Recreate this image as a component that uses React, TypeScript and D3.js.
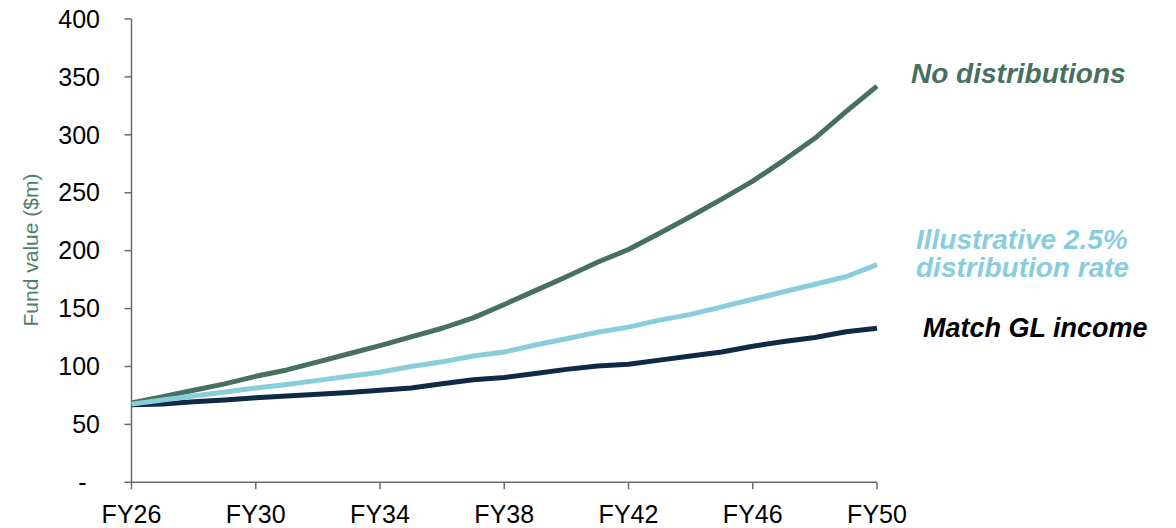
import React from "react";
import * as d3 from "d3";

const years = [26,27,28,29,30,31,32,33,34,35,36,37,38,39,40,41,42,43,44,45,46,47,48,49,50];
const noDistributions = [68.5,74,79.5,85,91.5,97,104,111,118,125.5,133,142,153.5,165.5,177.5,190,201,215,229.5,244.5,260,278,297,320,342];
const illustrative = [67.5,71,74.5,78,81.5,84.5,88,91.5,95,100,104,109,112.5,118.5,124,129.5,134,140,145,151.5,158,164.5,171,177.5,188];
const matchGL = [67,67.5,69.5,71,73,74.5,76,77.5,79.5,81.5,85,88.5,90.5,94,97.5,100.5,102,105.5,109,112.5,117.5,121.5,125,130,133];
const yTicks = [0,50,100,150,200,250,300,350,400];
const yTickLabels = ["-","50","100","150","200","250","300","350","400"];
const xTicks = [26,30,34,38,42,46,50];
const xTickLabels = ["FY26","FY30","FY34","FY38","FY42","FY46","FY50"];

const FONT = "'Liberation Sans', Arial, sans-serif";

export default function App() {
  const x = d3.scaleLinear().domain([26, 50]).range([131.5, 877]);
  const y = d3.scaleLinear().domain([0, 400]).range([482.3, 19]);
  const line = (vals: number[]) =>
    d3.line<number>().x((_, i) => x(years[i])).y((v) => y(v))(vals) || "";

  const axisColor = "#6b6b6b";
  const series = [
    { vals: matchGL, color: "#0f2947" },
    { vals: noDistributions, color: "#476f62" },
    { vals: illustrative, color: "#89cddd" },
  ];

  return (
    <svg width={1176} height={528} style={{ position: "absolute", left: 0, top: 0, display: "block", background: "#fff" }}>
      {/* y axis */}
      <line x1={x(26)} x2={x(26)} y1={y(400)} y2={y(0)} stroke={axisColor} strokeWidth={1.5} />
      {yTicks.map((t, i) => (
        <g key={"y" + t}>
          <line x1={x(26) - 7} x2={x(26)} y1={y(t)} y2={y(t)} stroke={axisColor} strokeWidth={1.5} />
          <text x={t === 0 ? 86.5 : 100} y={y(t)} dy="0.35em" textAnchor="end" fontFamily={FONT} fontSize={25} fill="#000">
            {yTickLabels[i]}
          </text>
        </g>
      ))}
      {/* x axis */}
      <line x1={x(26)} x2={x(50)} y1={y(0)} y2={y(0)} stroke={axisColor} strokeWidth={1.5} />
      {xTicks.map((t, i) => (
        <g key={"x" + t}>
          <line x1={x(t)} x2={x(t)} y1={y(0)} y2={y(0) + 7} stroke={axisColor} strokeWidth={1.5} />
          <text x={x(t)} y={523} textAnchor="middle" fontFamily={FONT} fontSize={25} fill="#000">
            {xTickLabels[i]}
          </text>
        </g>
      ))}
      {/* y title */}
      <text transform="translate(37.5,250) rotate(-90)" textAnchor="middle" fontFamily={FONT} fontSize={21} fill="#4e7d6e">
        Fund value ($m)
      </text>
      {/* lines */}
      {series.map((s, i) => (
        <path key={i} d={line(s.vals)} fill="none" stroke={s.color} strokeWidth={5} strokeLinejoin="round" strokeLinecap="butt" />
      ))}
      {/* labels */}
      <text x={911} y={83} fontFamily={FONT} fontSize={28} fontWeight="bold" fontStyle="italic" fill="#476f62">No distributions</text>
      <text x={916} y={249} fontFamily={FONT} fontSize={28} fontWeight="bold" fontStyle="italic" fill="#89cddd">
        <tspan x={916}>Illustrative 2.5%</tspan>
        <tspan x={916} dy={28}>distribution rate</tspan>
      </text>
      <text x={923} y={337} fontFamily={FONT} fontSize={27} fontWeight="bold" fontStyle="italic" fill="#000">Match GL income</text>
    </svg>
  );
}
